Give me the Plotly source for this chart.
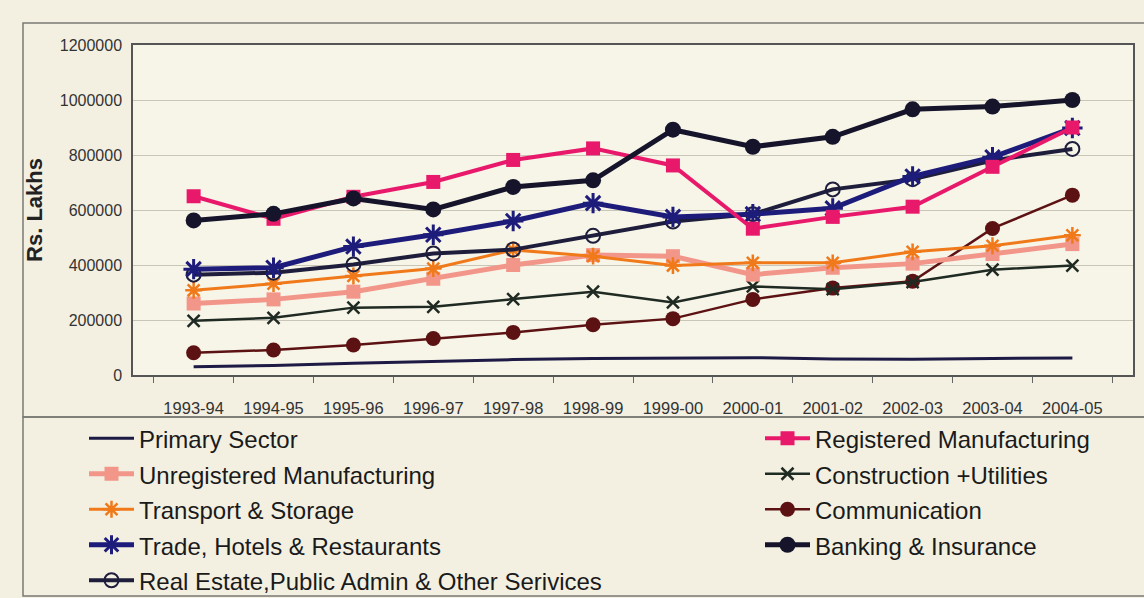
import plotly.graph_objects as go

years = ["1993-94", "1994-95", "1995-96", "1996-97", "1997-98", "1998-99",
         "1999-00", "2000-01", "2001-02", "2002-03", "2003-04", "2004-05"]

primary = [30000, 35000, 43000, 50000, 56000, 60000, 62000, 63000, 58000, 57000, 60000, 62000]
registered = [650000, 568000, 648000, 702000, 782000, 824000, 762000, 532000, 575000, 612000, 757000, 900000]
unregistered = [260000, 275000, 303000, 350000, 400000, 436000, 432000, 365000, 390000, 405000, 440000, 476000]
construction = [197000, 208000, 245000, 248000, 276000, 303000, 264000, 322000, 312000, 338000, 383000, 398000]
transport = [308000, 332000, 360000, 387000, 455000, 432000, 398000, 408000, 408000, 448000, 470000, 508000]
communication = [81000, 91000, 109000, 133000, 155000, 183000, 205000, 275000, 316000, 341000, 533000, 654000]
trade = [385000, 390000, 467000, 510000, 560000, 625000, 575000, 585000, 606000, 722000, 792000, 898000]
banking = [562000, 586000, 642000, 602000, 684000, 708000, 892000, 830000, 866000, 966000, 976000, 1000000]
real_estate = [365000, 372000, 402000, 442000, 456000, 506000, 558000, 585000, 675000, 712000, 780000, 822000]

names = ["Primary Sector", "Registered Manufacturing", "Unregistered Manufacturing",
         "Construction +Utilities", "Transport & Storage", "Communication",
         "Trade, Hotels & Restaurants", "Banking & Insurance",
         "Real Estate,Public Admin & Other Serivices"]

y_ticks = [0, 200000, 400000, 600000, 800000, 1000000, 1200000]

# (name, values, line style, marker style, legend column, row)
series = [
    (names[0], primary, dict(color="#1d1a45", width=3), None, "legend", 1),
    (names[1], registered, dict(color="#e8196b", width=4),
     dict(symbol="square", size=14, color="#e8196b"), "legend2", 1),
    (names[2], unregistered, dict(color="#f3968a", width=5),
     dict(symbol="square", size=14, color="#f3968a"), "legend", 2),
    (names[3], construction, dict(color="#1f2a22", width=2.5),
     dict(symbol="x-thin-open", size=12, line=dict(color="#1f2a22", width=2.5)), "legend2", 2),
    (names[4], transport, dict(color="#f07a1a", width=3),
     dict(symbol="asterisk-open", size=14, line=dict(color="#f07a1a", width=2.5)), "legend", 3),
    (names[5], communication, dict(color="#5c1212", width=2.5),
     dict(symbol="circle", size=15, color="#5c1212"), "legend2", 3),
    (names[6], trade, dict(color="#1e1c7a", width=5),
     dict(symbol="asterisk-open", size=17, line=dict(color="#1e1c7a", width=3)), "legend", 4),
    (names[7], banking, dict(color="#15142a", width=5),
     dict(symbol="circle", size=16, color="#15142a"), "legend2", 4),
    (names[8], real_estate, dict(color="#1e1e3c", width=4),
     dict(symbol="circle-open", size=14, line=dict(color="#1e1e3c", width=2)), "legend", 5),
]

fig = go.Figure()
draw_order = [0, 5, 3, 2, 4, 8, 6, 1, 7]
for i in draw_order:
    name, vals, line, marker, leg, row = series[i]
    kw = dict(x=years, y=vals,
              name='<span style="font-size:24px">' + name + '</span>',
              line=line, legend=leg, legendrank=row)
    if marker is None:
        kw["mode"] = "lines"
    else:
        kw["mode"] = "lines+markers"
        kw["marker"] = marker
    fig.add_trace(go.Scatter(**kw))

W, H = 1144, 598
L, R, T, B = 133, 11, 45, 223
pw, ph = W - L - R, H - T - B

def px(xp):
    return (xp - L) / pw

def py(yp):
    return (H - B - yp) / ph

legend_common = dict(
    orientation="v",
    yanchor="top", xanchor="left",
    itemwidth=45,
    font=dict(size=25, color="#1a1a1a"),
    bgcolor="rgba(0,0,0,0)",
    traceorder="normal",
    itemclick=False, itemdoubleclick=False,
)

fig.update_layout(
    width=W, height=H,
    margin=dict(l=L, r=R, t=T, b=B, autoexpand=False),
    paper_bgcolor="#f3f0e2",
    plot_bgcolor="#f7f4e8",
    font=dict(family="Liberation Sans, Arial, sans-serif", color="#222222"),
    showlegend=True,
    legend=dict(x=px(84), y=py(415.5), **legend_common),
    legend2=dict(x=px(760), y=py(415.5), **legend_common),
    xaxis=dict(
        type="category",
        showgrid=False,
        ticks="outside", ticklen=6, tickcolor="#666666",
        tickson="boundaries",
        tickfont=dict(size=16.5, color="#333333"),
        ticklabelstandoff=17,
        showline=True, linecolor="#555555", linewidth=1.5, mirror=True,
        zeroline=False,
    ),
    yaxis=dict(
        range=[0, 1200000],
        tickvals=y_ticks,
        ticktext=[str(v) for v in y_ticks],
        showgrid=True, gridcolor="#c9c6b8", gridwidth=1,
        tickfont=dict(size=16, color="#333333"),
        ticklabelstandoff=6,
        showline=True, linecolor="#555555", linewidth=1.5, mirror=True,
        zeroline=False,
        title=dict(text="<b>Rs. Lakhs</b>", font=dict(size=22, color="#222222"), standoff=11),
    ),
    shapes=[
        dict(type="rect", xref="paper", yref="paper",
             x0=px(23), x1=px(1150), y0=py(417), y1=py(23),
             line=dict(color="#7a7a74", width=1.5), fillcolor="rgba(0,0,0,0)", layer="below"),
        dict(type="rect", xref="paper", yref="paper",
             x0=px(23), x1=px(1150), y0=py(596), y1=py(417),
             line=dict(color="#7a7a74", width=1.5), fillcolor="rgba(0,0,0,0)", layer="below"),
    ],
)

fig.write_html("out.html", config={"displayModeBar": False},
               post_script="document.body.style.margin='0px';")
